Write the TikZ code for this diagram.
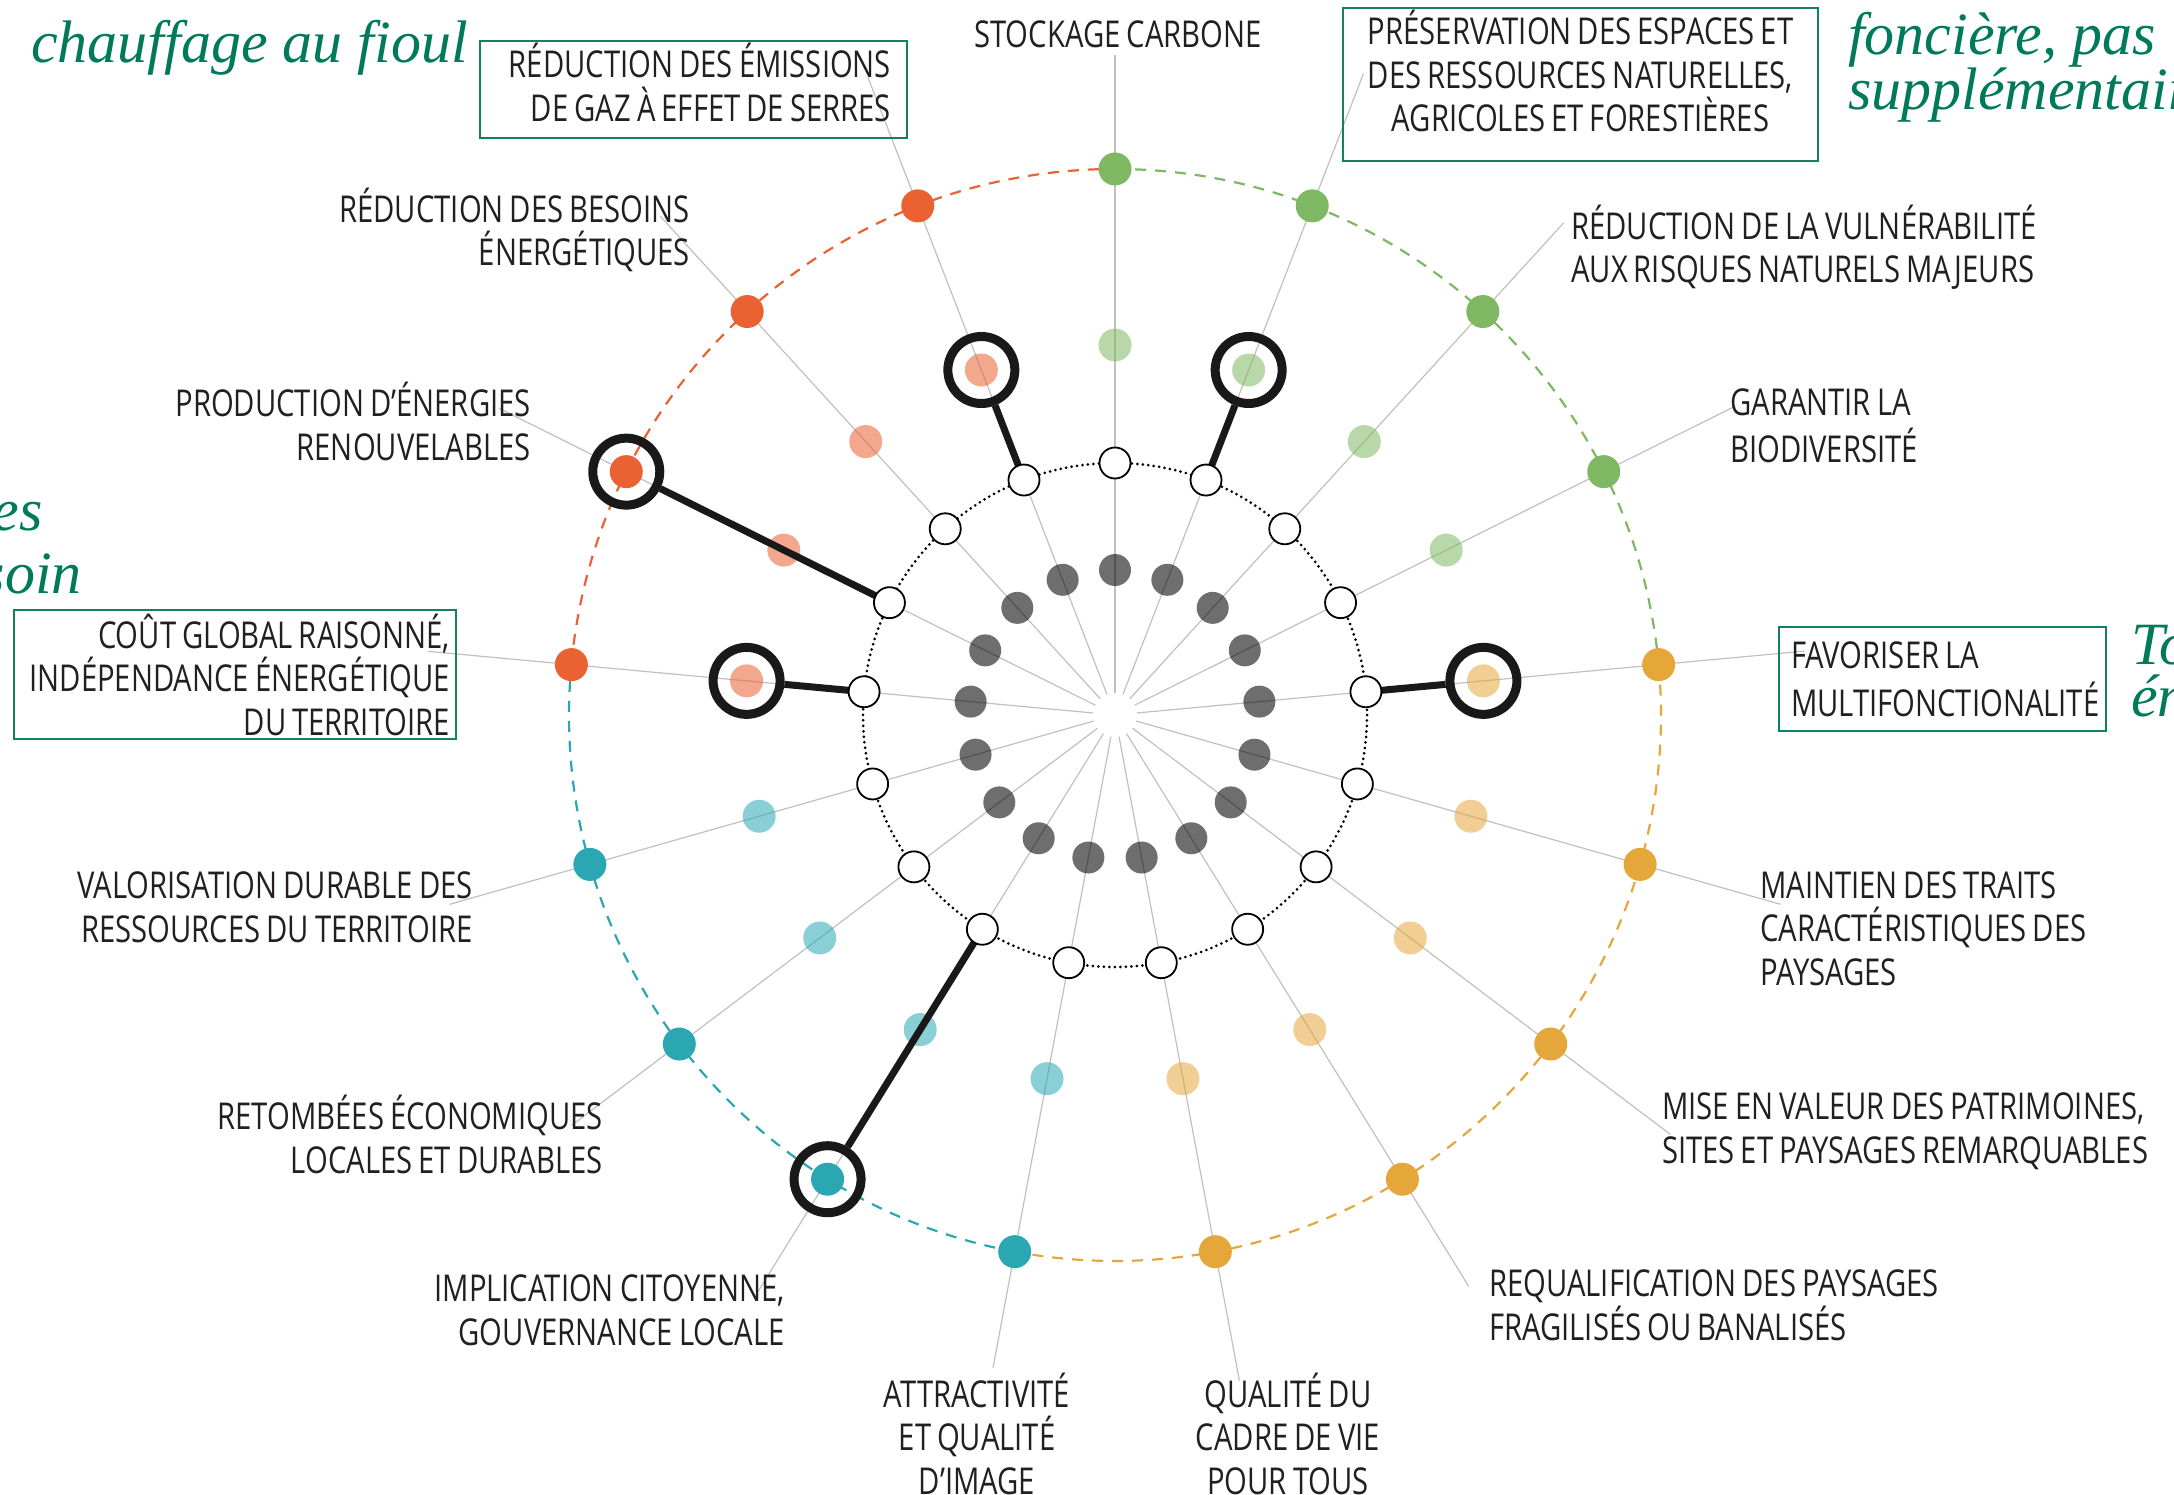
\documentclass[tikz,border=0pt]{standalone}
\usepackage{fontspec}
\newfontfamily\tagfont{Open Sans}[FakeStretch=0.79, WordSpace=0.8]
\newfontfamily\notefont{Liberation Serif}
\definecolor{ink}{RGB}{35,31,32}
\definecolor{frame}{RGB}{20,128,96}
\definecolor{note}{RGB}{0,122,90}
\definecolor{spoke}{RGB}{192,192,192}
\definecolor{dotG}{RGB}{126,184,98}
\definecolor{dotO}{RGB}{229,166,58}
\definecolor{dotT}{RGB}{42,167,179}
\definecolor{dotR}{RGB}{234,97,50}
\tikzset{
  tag/.style={font=\tagfont\fontsize{37}{43.5}\selectfont, text=ink, inner sep=0pt},
  tagbox/.style={tag, draw=frame, line width=1.5, execute at begin node={\spaceskip=0pt\relax}},
  note/.style={font=\notefont\itshape\fontsize{60}{63}\selectfont, text=note, inner sep=0pt},
  dot/.style={circle, inner sep=0pt, minimum size=33},
  rimdot/.style={dot, fill=dot#1},
  midot/.style={dot, fill=dot#1, fill opacity=0.55},
  hubdot/.style={dot, fill=black, fill opacity=0.57, minimum size=32},
  knob/.style={dot, draw=black, line width=1.8, fill=white, minimum size=31},
  target/.style={circle, draw=black!90, line width=9, minimum size=67, inner sep=0pt},
  link/.style={black!90, line width=7},
  ray/.style={spoke, line width=1.2},
  rim/.style={dash pattern=on 11 off 9, line width=2.2},
}
\def\spokes{0/G/660,1/G/688,2/G/666,3/G/693,4/O/692,5/O/692,6/O/696,7/O/672,8/O/677,
  9/T/664,10/T/685,11/T/681,12/T/692,13/R/690,14/R/688,15/R/675,16/R/684}
\begin{document}
\begin{tikzpicture}[x=1pt, y=-1pt]
\useasboundingbox (0,0) rectangle (2174,1495);
\clip (0,0) rectangle (2174,1495);
\coordinate (c) at (1115,715);

% spokes and leaders
\foreach \k/\g/\len [evaluate=\k as \a using -90+\k*360/17] in \spokes {
  \path (c) ++(\a:22) coordinate (s\k);
  \path (c) ++(\a:\len) coordinate (e\k);
  \draw[ray] (s\k) -- (e\k);
}

% coloured dashed rim
\foreach \from/\to/\g [evaluate=\from as \sa using -90+\from*360/17,
                       evaluate=\to as \ea using -90+\to*360/17] in {0/4/G,4/9/O,9/13/T,13/17/R}
  \draw[rim, dot\g] (c) ++(\sa:546) arc[start angle=\sa, end angle=\ea, radius=546];

% dotted ring of the knobs
\draw[black, line width=3, dash pattern=on 0 off 5.5, line cap=round] (c) circle[radius=252];

% the four rings of dots
\foreach \k/\g/\len [evaluate=\k as \a using -90+\k*360/17] in \spokes {
  \path (c) ++(\a:546) node[rimdot=\g] (o\k) {};
  \path (c) ++(\a:370) node[midot=\g] (m\k) {};
  \path (c) ++(\a:145) node[hubdot] (h\k) {};
}

% highlighted values
\node[target] (t16) at (m16) {};
\node[target] (t1) at (m1) {};
\node[target] (t14) at (o14) {};
\node[target] (t13) at (m13) {};
\node[target] (t4) at (m4) {};
\node[target] (t10) at (o10) {};

\foreach \k [evaluate=\k as \a using -90+\k*360/17] in {0,...,16}
  \path (c) ++(\a:252) coordinate (p\k);
\foreach \k in {16,1,14,13,4,10}
  \draw[link] (t\k) -- (p\k);
\foreach \k in {0,...,16}
  \node[knob] (w\k) at (p\k) {};

% labels (base = last line, boxes: base = first line)
\node[tag, anchor=base] (l0) at (1118,48) {STOCKAGE CARBONE};
\node[tagbox, anchor=base, text width=451, inner xsep=12, align=flush center,
      text height=37, text depth=116] (l1) at (1580.5,45)
  {PRÉSERVATION DES ESPACES ET\\DES RESSOURCES NATURELLES,\\AGRICOLES ET FORESTIÈRES};
\node[tag, anchor=base west, align=left] (l2) at (1571,283)
  {RÉDUCTION DE LA VULNÉRABILITÉ\\AUX RISQUES NATURELS MAJEURS};
\node[tag, anchor=base west, align=left] (l3) at (1730,462)
  {GARANTIR LA\\[3.5pt]BIODIVERSITÉ};
\node[tagbox, anchor=base, text width=303, inner xsep=12, align=flush left,
      text height=41, text depth=63] (l4) at (1942.5,668)
  {FAVORISER LA\\[5pt]MULTIFONCTIONALITÉ};
\node[tag, anchor=base west, align=left] (l5) at (1760,985)
  {MAINTIEN DES TRAITS\\CARACTÉRISTIQUES DES\\PAYSAGES};
\node[tag, anchor=base west, align=left] (l6) at (1662,1163)
  {MISE EN VALEUR DES PATRIMOINES,\\SITES ET PAYSAGES REMARQUABLES};
\node[tag, anchor=base west, align=left] (l7) at (1489,1340)
  {REQUALIFICATION DES PAYSAGES\\FRAGILISÉS OU BANALISÉS};
\node[tag, anchor=base, align=center] (l8) at (1288,1494)
  {QUALITÉ DU\\CADRE DE VIE\\POUR TOUS};
\node[tag, anchor=base, align=center] (l9) at (977,1494)
  {ATTRACTIVITÉ\\ET QUALITÉ\\D’IMAGE};
\node[tag, anchor=base east, align=right] (l10) at (785,1345)
  {IMPLICATION CITOYENNE,\\GOUVERNANCE LOCALE};
\node[tag, anchor=base east, align=right] (l11) at (603,1173)
  {RETOMBÉES ÉCONOMIQUES\\LOCALES ET DURABLES};
\node[tag, anchor=base east, align=right] (l12) at (473,942)
  {VALORISATION DURABLE DES\\RESSOURCES DU TERRITOIRE};
\node[tagbox, anchor=base, text width=430, inner xsep=6, align=flush right,
      text height=38, text depth=91] (l13) at (235,648)
  {COÛT GLOBAL RAISONNÉ,\\INDÉPENDANCE ÉNERGÉTIQUE\\DU TERRITOIRE};
\node[tag, anchor=base east, align=right] (l14) at (531,460)
  {PRODUCTION D’ÉNERGIES\\RENOUVELABLES};
\node[tag, anchor=base east, align=right] (l15) at (690,266)
  {RÉDUCTION DES BESOINS\\ÉNERGÉTIQUES};
\node[tagbox, anchor=base, text width=395, inner xsep=16, align=flush right,
      text height=37, text depth=60] (l16) at (693.5,78)
  {RÉDUCTION DES ÉMISSIONS\\DE GAZ À EFFET DE SERRES};

% text of the page around the figure
\node[note, anchor=base west] (n1) at (31,63) {chauffage au fioul};
\node[note, anchor=base west, align=left, font=\notefont\itshape\fontsize{60}{47}\selectfont]
  (n2) at (1848,110) {foncière, pas\\supplémentaire};
\node[note, anchor=base west, align=left, font=\notefont\itshape\fontsize{60}{52}\selectfont]
  (n3) at (2131,716) {To\\én};
\node[note, anchor=base east] (n4) at (43,530) {es};
\node[note, anchor=base east] (n5) at (82,593) {soin};
\end{tikzpicture}
\end{document}
